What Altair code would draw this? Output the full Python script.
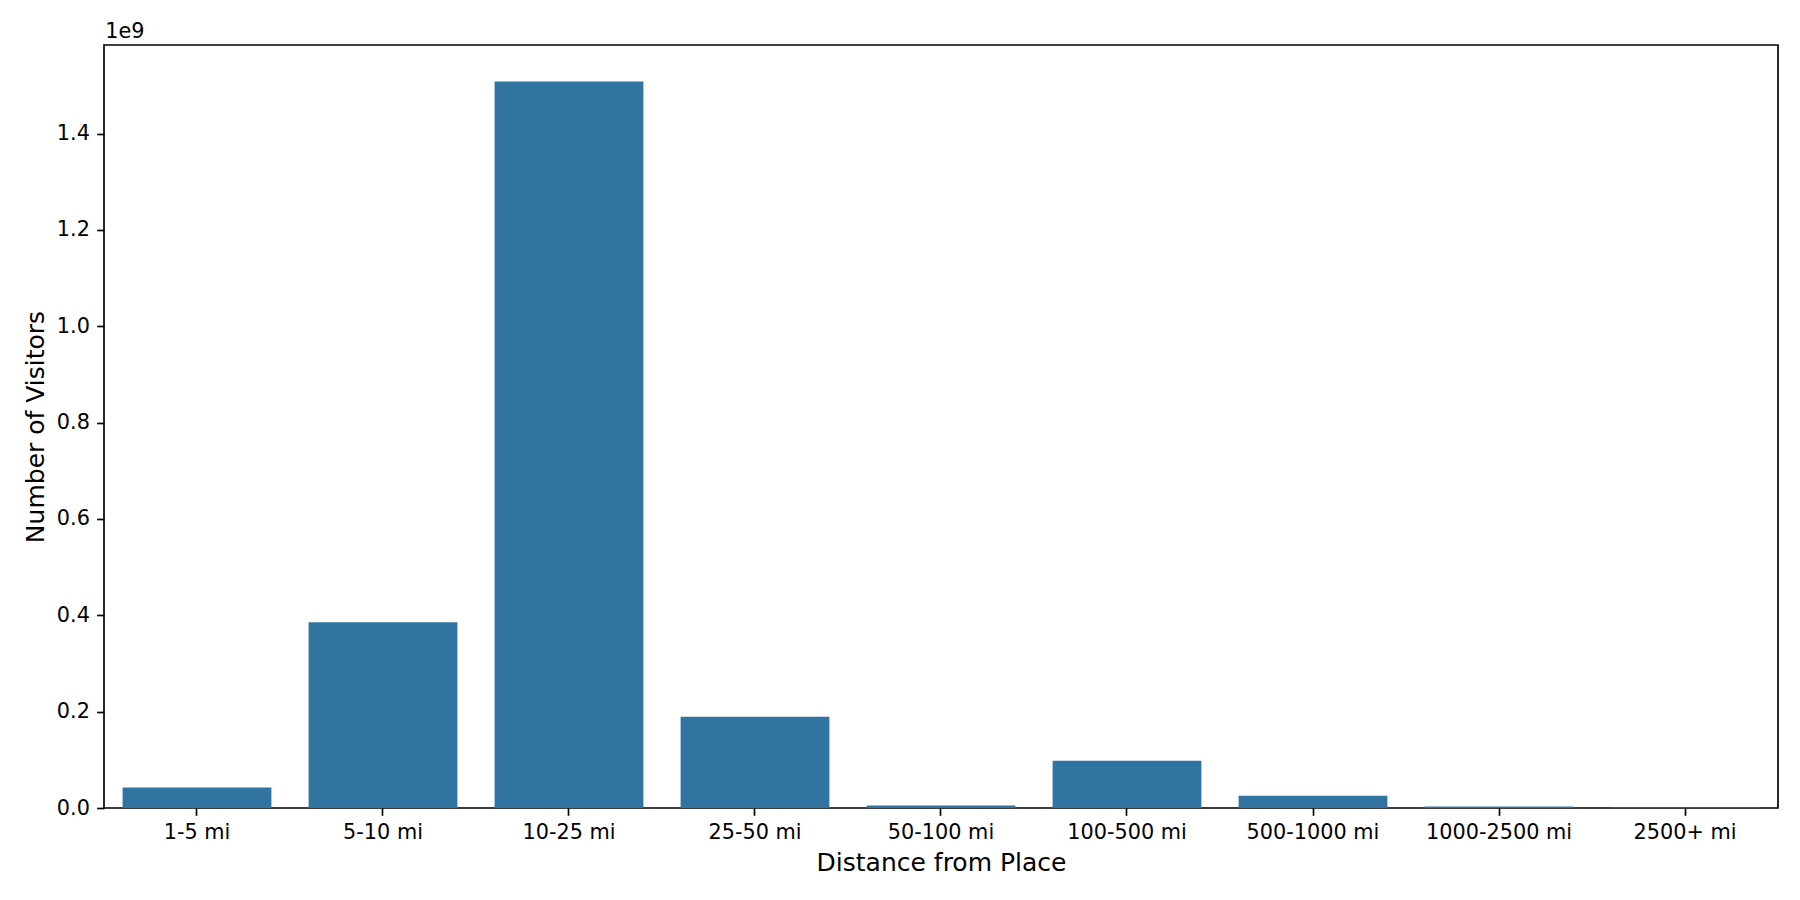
import altair as alt
import pandas as pd

categories = ["1-5 mi", "5-10 mi", "10-25 mi", "25-50 mi", "50-100 mi",
              "100-500 mi", "500-1000 mi", "1000-2500 mi", "2500+ mi"]
visitors = [42_400_000, 385_500_000, 1_508_000_000, 189_600_000, 5_000_000,
            98_000_000, 25_600_000, 3_000_000, 800_000]
y_ticks = [0, 200_000_000, 400_000_000, 600_000_000, 800_000_000,
           1_000_000_000, 1_200_000_000, 1_400_000_000]
offset_label = ["1e9"]

df = pd.DataFrame({"Distance": categories, "Visitors": visitors})
FONT = "DejaVu Sans"

bars = alt.Chart(df).mark_bar(color="#3274a1").encode(
    x=alt.X("Distance:N", sort=categories,
            scale=alt.Scale(paddingInner=0.2, paddingOuter=0.1),
            axis=alt.Axis(title="Distance from Place", labelAngle=0,
                          labelBaseline="alphabetic", labelPadding=23.3,
                          titleBaseline="alphabetic", titleX=837, titleY=62,
                          titleAlign="center")),
    y=alt.Y("Visitors:Q", scale=alt.Scale(domain=[0, 1_584_000_000], nice=False, zero=True),
            axis=alt.Axis(title="Number of Visitors", values=y_ticks,
                          labelExpr="format(datum.value / 1e9, '.1f')",
                          labelAlign="right", labelBaseline="middle", labelPadding=7.3,
                          titleAngle=270, titleBaseline="alphabetic", titleAlign="center",
                          titleX=-61, titleY=381.5)),
)

offset = alt.Chart(pd.DataFrame({"t": offset_label})).mark_text(
    align="left", baseline="alphabetic", font=FONT, fontSize=20.8, color="black"
).encode(x=alt.value(1.3), y=alt.value(-6.7), text="t:N")

chart = alt.layer(bars, offset).properties(
    width=1674, height=763,
    autosize=alt.AutoSizeParams(type="none"),
    padding={"left": 96, "top": 37, "right": 14, "bottom": 80},
    background="white",
).configure_view(
    stroke="black", strokeWidth=1.67
).configure_axis(
    grid=False, domain=False, tickColor="black", tickWidth=1.67, tickSize=7.3,
    labelColor="black", labelFont=FONT, labelFontSize=20.8,
    titleColor="black", titleFont=FONT, titleFontSize=25, titleFontWeight="normal",
)

chart.save("out.html", embed_options={"renderer": "svg", "actions": False})
